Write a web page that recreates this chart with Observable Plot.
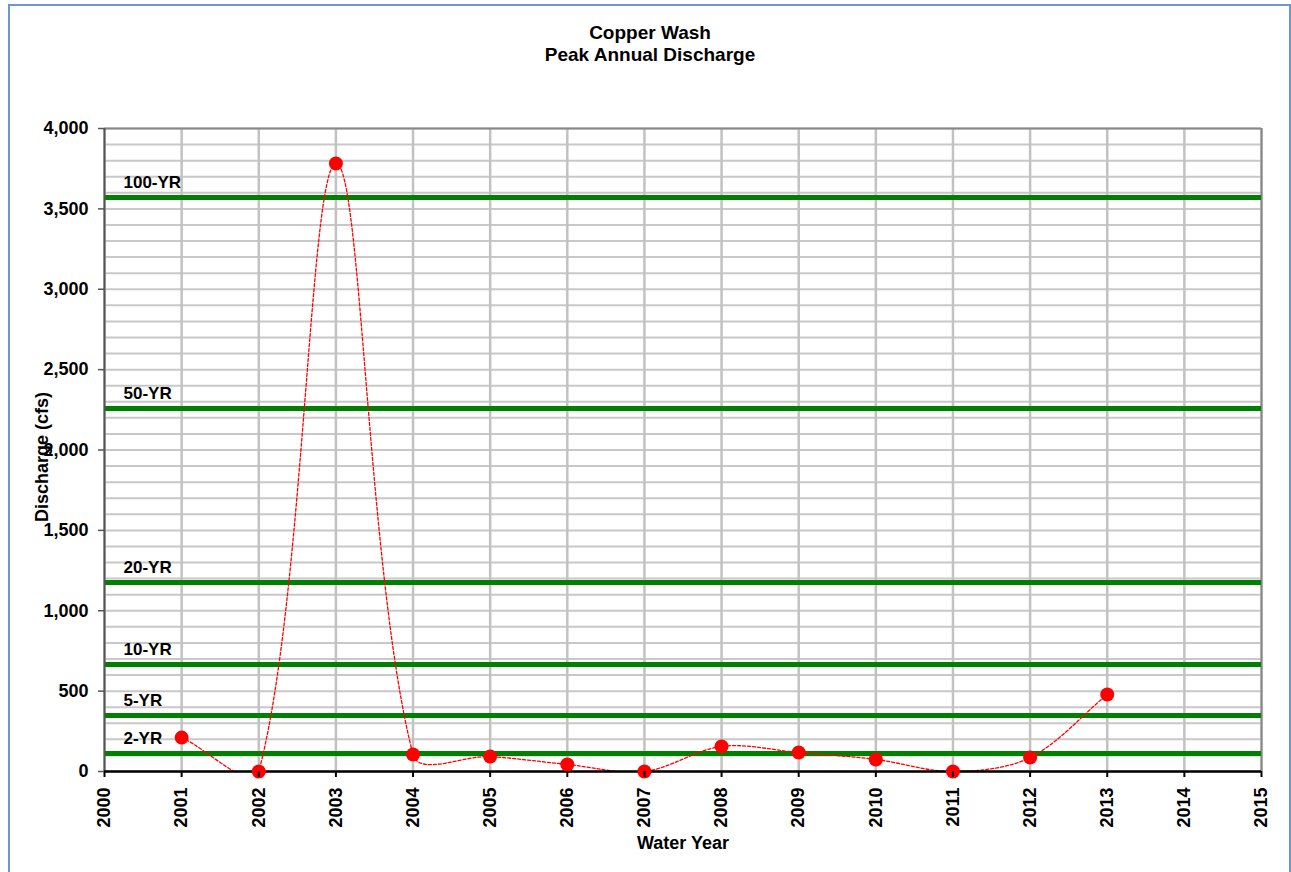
<!DOCTYPE html>
<html>
<head>
<meta charset="utf-8">
<script src="https://cdn.jsdelivr.net/npm/d3@7"></script>
<script src="https://cdn.jsdelivr.net/npm/@observablehq/plot@0.6"></script>
<style>
html, body { margin: 0; padding: 0; background: #fff; overflow: hidden; }
#wrap { position: relative; width: 1291px; height: 872px; font-family: "Liberation Sans", Arial, sans-serif; color: #000; overflow: hidden; }
#border { position: absolute; left: 8px; top: 4px; width: 1279px; height: 920px; border: 2px solid #6d95d2; }
.title { position: absolute; left: 0; width: 1300px; text-align: center; font-weight: bold; font-size: 19px; line-height: 22px; }
#chart { position: absolute; left: 0; top: 70px; }
#ylab { position: absolute; left: 42px; top: 457px; transform: translate(-50%, -50%) rotate(-90deg); font-weight: bold; font-size: 18px; white-space: pre; }
#xlab { position: absolute; left: 683px; top: 843px; transform: translate(-50%, -50%); font-weight: bold; font-size: 18px; white-space: nowrap; }
</style>
</head>
<body>
<div id="wrap">
  <div id="border"></div>
  <div class="title" style="top:22px">Copper Wash</div>
  <div class="title" style="top:44px">Peak Annual Discharge</div>
  <div id="chart"></div>
  <div id="ylab">Discharge (cfs)</div>
  <div id="xlab">Water Year</div>
</div>
<script>
// ---- data ----
const years = [2001, 2002, 2003, 2004, 2005, 2006, 2007, 2008, 2009, 2010, 2011, 2012, 2013];
const discharge = [211, 0, 3782, 106, 93, 44, 0, 156, 118, 75, 0, 87, 479];
const returnLabels = ["2-YR", "5-YR", "10-YR", "20-YR", "50-YR", "100-YR"];
const returnFlows = [112, 348, 666, 1176, 2258, 3571];
const xTicks = [2000, 2001, 2002, 2003, 2004, 2005, 2006, 2007, 2008, 2009, 2010, 2011, 2012, 2013, 2014, 2015];
const yTicks = [0, 500, 1000, 1500, 2000, 2500, 3000, 3500, 4000];

// ---- tables built from arrays ----
const peaks = years.map((yr, i) => ({year: yr, q: discharge[i]}));
const returns = returnLabels.map((lab, i) => ({label: lab, q: returnFlows[i]}));
const minorGrid = d3.range(0, 4001, 100);
const fmt = d3.format(",.0f");

// Spreadsheet-style smoothed line: Bezier handles along neighbour chord,
// split in proportion to adjacent segment lengths (computed in pixel space).
function smoothCurve(context) {
  let pts = [];
  const dist = (a, b) => Math.hypot(b[0] - a[0], b[1] - a[1]);
  return {
    areaStart() {}, areaEnd() {},
    lineStart() { pts = []; },
    point(x, y) { pts.push([+x, +y]); },
    lineEnd() {
      const n = pts.length;
      if (!n) return;
      context.moveTo(pts[0][0], pts[0][1]);
      for (let i = 0; i < n - 1; i++) {
        const p0 = pts[i - 1] || pts[i], p1 = pts[i], p2 = pts[i + 1], p3 = pts[i + 2] || pts[i + 1];
        const d01 = dist(p0, p1), d12 = dist(p1, p2), d23 = dist(p2, p3);
        const f1 = (d01 + d12) > 0 ? d12 / (d01 + d12) / 3 : 0;
        const f2 = (d12 + d23) > 0 ? d12 / (d12 + d23) / 3 : 0;
        const c1 = [p1[0] + (p2[0] - p0[0]) * f1, p1[1] + (p2[1] - p0[1]) * f1];
        const c2 = [p2[0] - (p3[0] - p1[0]) * f2, p2[1] - (p3[1] - p1[1]) * f2];
        context.bezierCurveTo(c1[0], c1[1], c2[0], c2[1], p2[0], p2[1]);
      }
    }
  };
}

const chart = Plot.plot({
  width: 1291,
  height: 802,
  marginLeft: 104,
  marginRight: 30,
  marginTop: 58,
  marginBottom: 101,
  style: {fontFamily: "'Liberation Sans', Arial, sans-serif", fontSize: "18px", fontWeight: "bold", color: "#000", background: "transparent", overflow: "visible"},
  x: {domain: [2000, 2015]},
  y: {domain: [0, 4000]},
  marks: [
    Plot.ruleY(minorGrid, {stroke: "#c8c8c8", strokeWidth: 2}),
    Plot.ruleX(xTicks, {stroke: "#c2c2c2", strokeWidth: 2.5}),
    Plot.ruleY([4000], {stroke: "#888", strokeWidth: 2}),
    Plot.ruleX([2015], {stroke: "#888", strokeWidth: 2}),
    Plot.ruleY(returns, {y: "q", stroke: "#008000", strokeWidth: 5}),
    Plot.text(returns, {x: () => 2000, y: "q", text: "label", textAnchor: "start", dx: 19, dy: -15, fontSize: 17, fontWeight: "bold", fill: "#000"}),
    Plot.line(peaks, {x: "year", y: "q", curve: smoothCurve, stroke: "red", strokeWidth: 1.3, strokeDasharray: "3,2", clip: true}),
    Plot.ruleX([2000], {stroke: "#555", strokeWidth: 2}),
    Plot.ruleY([0], {stroke: "#000", strokeWidth: 2.5}),
    Plot.dot(peaks, {x: "year", y: "q", r: 7, fill: "red", stroke: "none"}),
    Plot.axisX({ticks: xTicks, tickFormat: d => String(d), tickRotate: -90, tickSize: 6, tickPadding: 10, label: null, fontSize: 18, fontWeight: "bold", stroke: "#000", strokeWidth: 2}),
    Plot.axisY({ticks: yTicks, tickFormat: d => fmt(d), tickSize: 6, tickPadding: 10, label: null, fontSize: 18, fontWeight: "bold", stroke: "#555", strokeWidth: 1.5})
  ]
});
document.getElementById("chart").appendChild(chart);
</script>
</body>
</html>
